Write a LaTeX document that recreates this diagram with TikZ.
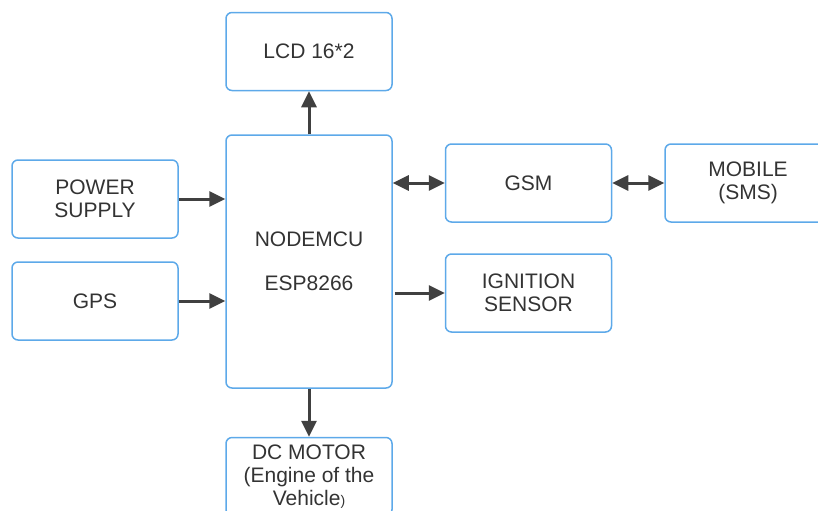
\documentclass[tikz,border=0pt]{standalone}
\usepackage{fontspec}
\setmainfont{Liberation Sans}
\usepackage{tikz}
\usetikzlibrary{positioning, arrows.meta, calc}

\definecolor{boxblue}{HTML}{5DA9E9}
\definecolor{textgray}{HTML}{333333}
\definecolor{arrowgray}{HTML}{404040}

\begin{document}
\begin{tikzpicture}[
            x=0.5pt, y=-0.5pt,
            block/.style={draw=boxblue, line width=0.75pt, rectangle, rounded corners=3pt,
                          minimum width=83pt, minimum height=39pt, align=center,
                          text=textgray, font=\fontsize{10.5}{11.5}\selectfont, inner sep=0pt},
            link/.style={draw=arrowgray, line width=1.5pt, -{Triangle[length=8pt, width=7.5pt]}},
            duplex/.style={draw=arrowgray, line width=1.5pt,
                           {Triangle[length=8pt, width=7.5pt]}-{Triangle[length=8pt, width=7.5pt]}}
        ]

        \useasboundingbox (0,0) rectangle (818,510);
        \clip (0,0) rectangle (818,510);

        % Knoten
        \node[block, minimum height=126.5pt] (mcu) at (309,261.5) {NODEMCU\\[10.5pt]ESP8266};
        \node[block, above=21.5pt of mcu] (lcd) {LCD 16*2};
        \node[block, below=24pt of mcu] (motor) {DC MOTOR\\(Engine of the\\Vehicle{\fontsize{7}{8}\selectfont)}};
        \node[block] (power) at (95,199) {POWER\\SUPPLY};
        \node[block] (gps) at (95,301) {GPS};
        \node[block] (gsm) at (528.5,183) {GSM};
        \node[block, right=26pt of gsm] (mobile) {MOBILE\\(SMS)};
        \node[block] (ign) at (528.5,293) {IGNITION\\SENSOR};

        % Kanten
        \draw[link] (mcu.north) -- (lcd.south);
        \draw[link] (mcu.south) -- (motor.north);
        \draw[link] (power.east) -- (power.east -| mcu.west);
        \draw[link] (gps.east) -- (gps.east -| mcu.west);
        \draw[duplex] (gsm.west -| mcu.east) -- (gsm.west);
        \draw[duplex] (gsm.east) -- (mobile.west);
        \draw[link] ($(ign.west -| mcu.east)+(2,0)$) -- (ign.west);

    \end{tikzpicture}
\end{document}
